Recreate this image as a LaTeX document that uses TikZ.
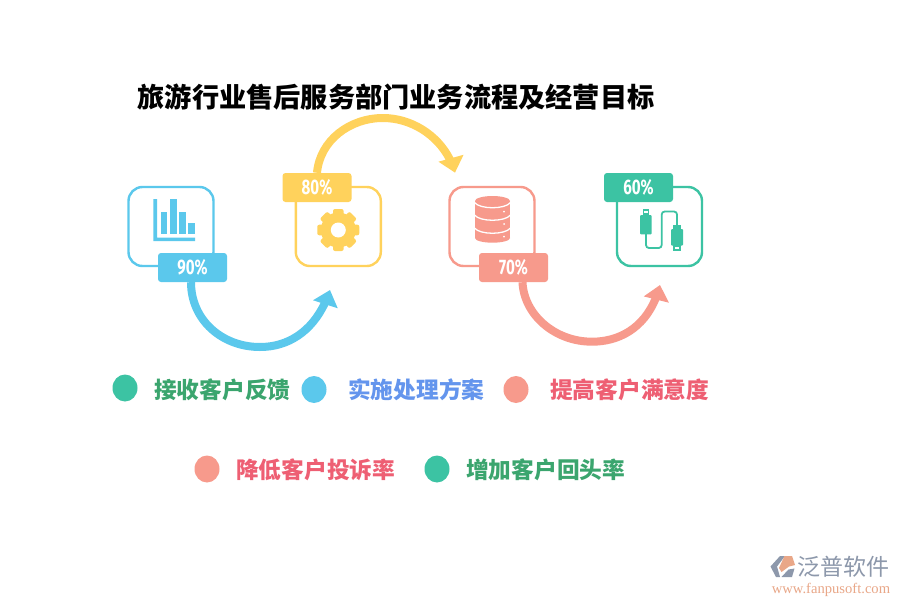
\documentclass[tikz,border=0pt]{standalone}
\usepackage{fontspec}
\newfontfamily\cjk{Noto Sans CJK SC}
\newfontfamily\tagfont[FakeStretch=0.72]{Fira Sans}
\newfontfamily\urlfont{Liberation Serif}
\usetikzlibrary{arrows.meta,bending}
\usetikzlibrary{shapes.geometric}
\definecolor{skyc}{HTML}{5BC8EC}
\definecolor{sunc}{HTML}{FFD25C}
\definecolor{salmonc}{HTML}{F79A8C}
\definecolor{tealc}{HTML}{3CC3A3}
\definecolor{greentxt}{HTML}{3BA56E}
\definecolor{bluetxt}{HTML}{6495ED}
\definecolor{redtxt}{HTML}{EE5F73}
\definecolor{logogray}{HTML}{8D98AB}
\definecolor{logoorange}{HTML}{E9A788}
\tikzset{
	iconbox/.style={draw=#1,line width=2.4pt,rounded corners=14pt,minimum width=85pt,minimum height=79pt},
	tagbox/.style={fill=#1,rounded corners=3pt,minimum width=69pt,minimum height=29pt,inner sep=0pt,text=white,font=\tagfont\bfseries\fontsize{21}{21}\selectfont},
	bigarrow/.style={draw=#1,line width=8pt,-{Triangle[width=25pt,length=15pt,fill=#1,flex=0]}},
	legenddot/.style={fill=#1,ellipse,minimum width=25pt,minimum height=27pt,inner sep=0pt},
	legendtext/.style={text=#1,inner sep=0pt,font=\cjk\bfseries\fontsize{22.7}{22.7}\selectfont}
}
\begin{document}
\begin{tikzpicture}[x=1pt,y=-1pt]
	\useasboundingbox (0,0) rectangle (900,600);
	\fill[white] (0,0) rectangle (900,600);
	% title
	\node[inner sep=0pt,font=\cjk\bfseries\fontsize{27.2}{27.2}\selectfont] (title) at (396,97) {旅游行业售后服务部门业务流程及经营目标};
	% boxes
	\node[iconbox=skyc] (chartbox) at (171,226.5) {};
	\node[iconbox=sunc] (gearbox) at (338.3,226.5) {};
	\node[iconbox=salmonc] (dbbox) at (492,226.5) {};
	\node[iconbox=tealc] (usbbox) at (659.5,226.5) {};
	\node[tagbox=skyc] (tagnine) at (192.5,267.5) {90\%};
	\node[tagbox=sunc] (tageight) at (317,187.5) {80\%};
	\node[tagbox=salmonc] (tagseven) at (513.5,267.5) {70\%};
	\node[tagbox=tealc] (tagsix) at (638.5,187.5) {60\%};
	% arrows
	\coordinate (tipone) at (330,290);
	\coordinate (tiptwo) at (455,172.7);
	\coordinate (tipthree) at (660,285);
	\draw[bigarrow=skyc] ([xshift=-1.5pt]tagnine.south) .. controls (191,320) and (222,347) .. (260,347) .. controls (292,347) and (318,327) .. (tipone);
	\draw[bigarrow=sunc] (tageight.north) .. controls (320,140) and (350,118) .. (383,118) .. controls (415,118) and (446,140) .. (tiptwo);
	\draw[bigarrow=salmonc] ([xshift=9pt]tagseven.south) .. controls (524,315) and (555,341.7) .. (592,341.7) .. controls (622,341.7) and (650,325) .. (tipthree);
	% chart icon
	\fill[skyc] (153.3,199) -- (157,199) -- (157,237.5) -- (195,237.5) -- (195,241) -- (153.3,241) -- cycle;
	\fill[skyc] (160.7,212) rectangle (167.3,233.7);
	\fill[skyc] (170,199.3) rectangle (176.7,233.7);
	\fill[skyc] (179.3,212) rectangle (186,233.7);
	\fill[skyc] (188.3,222.7) rectangle (195,233.7);
	% gear icon
	\foreach \ang in {0,45,...,315}
		\fill[sunc,rotate around={\ang:(338.3,230)},rounded corners=2pt] (333,209) rectangle (343.6,225);
	\fill[sunc] (338.3,230) circle (17.5pt);
	\fill[white] (338.3,230) circle (7.5pt);
	% database icon
	\fill[salmonc] (475,201) rectangle (510,238);
	\fill[salmonc] (492.5,201) ellipse (17.5pt and 5pt);
	\fill[salmonc] (492.5,238) ellipse (17.5pt and 4.7pt);
	\foreach \yy in {202.5,215,228}
		\draw[white,line width=1.3pt] (474.5,\yy) .. controls (480,\yy+7) and (505,\yy+7) .. (510.5,\yy);
	\foreach \yy in {211.7,224,236.7}
		\fill[white] (504,\yy) circle (1pt);
	% usb icon
	\draw[tealc,line width=1.8pt,rounded corners=3pt] (646,234) -- (646,248) -- (661.7,248) -- (661.7,211.5) -- (677,211.5) -- (677,226);
	\fill[tealc,rounded corners=1pt] (640,215) rectangle (651.7,234.3);
	\fill[tealc] (642.7,209) rectangle (649,216);
	\fill[white] (644,211) rectangle (647.7,213);
	\fill[tealc,rounded corners=1pt] (671,229) rectangle (683,245.7);
	\fill[tealc] (673,225) rectangle (681,230);
	\fill[tealc] (673,245) rectangle (681,250.5);
	\fill[white] (675,246.5) rectangle (679,248.5);
	% legend
	\node[legenddot=tealc] (dotone) at (125,388) {};
	\node[legendtext=greentxt,anchor=west] (textone) at (154,390) {接收客户反馈};
	\node[legenddot=skyc] (dottwo) at (314,389.5) {};
	\node[legendtext=bluetxt,anchor=west] (texttwo) at (348,390) {实施处理方案};
	\node[legenddot=salmonc] (dotthree) at (516,389.5) {};
	\node[legendtext=redtxt,anchor=west] (textthree) at (550,390) {提高客户满意度};
	\node[legenddot=salmonc] (dotfour) at (207,469) {};
	\node[legendtext=redtxt,anchor=west] (textfour) at (236,470) {降低客户投诉率};
	\node[legenddot=tealc] (dotfive) at (437,469) {};
	\node[legendtext=greentxt,anchor=west] (textfive) at (466,470) {增加客户回头率};
	% logo
	\fill[logogray] (780,556) -- (785,556) -- (777,566.5) -- (780,577) -- (776,577) -- (770.5,566.5) -- cycle;
	\fill[logoorange] (784.5,556) -- (792,556) -- (795,565) -- (789,566.5) -- (781.5,572) -- (779,568) -- cycle;
	\fill[logogray] (781.5,577) -- (792,577) -- (794.5,568.5) -- (788.5,569.5) -- cycle;
	\node[inner sep=0pt,text=logogray,font=\cjk\fontsize{23}{23}\selectfont] (logoname) at (843.5,567) {泛普软件};
	\node[inner sep=0pt,text=logoorange,font=\urlfont\fontsize{14.6}{14.6}\selectfont] (logourl) at (831,590) {www.fanpusoft.com};
\end{tikzpicture}
\end{document}
